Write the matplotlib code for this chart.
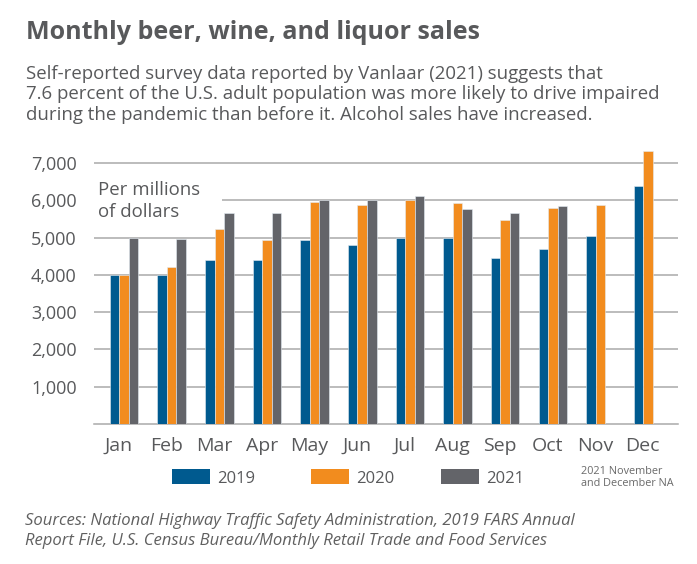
import numpy as np
import matplotlib
matplotlib.use('Agg')
import matplotlib.pyplot as plt
from matplotlib.patches import Patch, Rectangle

plt.rcParams['font.family'] = ['Open Sans', 'DejaVu Sans']

months = ['Jan', 'Feb', 'Mar', 'Apr', 'May', 'Jun', 'Jul', 'Aug', 'Sep', 'Oct', 'Nov', 'Dec']
sales_2019 = [4000, 4000, 4410, 4410, 4930, 4790, 5000, 4990, 4440, 4700, 5030, 6390]
sales_2020 = [4000, 4200, 5220, 4930, 5950, 5860, 6010, 5920, 5480, 5800, 5860, 7320]
sales_2021 = [5000, 4950, 5670, 5670, 6000, 6000, 6110, 5760, 5650, 5850, np.nan, np.nan]
years = ['2019', '2020', '2021']
colors = ['#005a8f', '#f28c1e', '#636469']
yticks = [1000, 2000, 3000, 4000, 5000, 6000, 7000]

txt = '#58595b'

fig = plt.figure(figsize=(6.97, 5.64), dpi=100)
ax = fig.add_axes([0.1349, 0.2482, 0.838, 0.4894])

x = np.arange(len(months))
w = 0.2
for i, (vals, c) in enumerate(zip([sales_2019, sales_2020, sales_2021], colors)):
    ax.bar(x + (i - 1) * w, vals, width=w, color=c, edgecolor='#e4ebf2', linewidth=0.4, zorder=3)

ax.set_xlim(-0.63, 11.63)
ax.set_ylim(0, 7400)
ax.set_yticks(yticks)
ax.set_yticklabels([f'{v:,}' for v in yticks])
# month labels sit a little left of the bar groups
ax.set_xticks(x - 0.11)
ax.set_xticklabels(months)
ax.tick_params(axis='both', length=0, colors=txt)
ax.tick_params(axis='y', pad=12.4, labelsize=13)
ax.tick_params(axis='x', pad=9.5, labelsize=14)
ax.yaxis.grid(True, color='#a9a9a9', linewidth=1.1, zorder=0)
for s in ['top', 'right', 'left']:
    ax.spines[s].set_visible(False)
ax.spines['bottom'].set_color('#a9a9a9')
ax.spines['bottom'].set_linewidth(1.1)

# white block behind the unit note hides part of the 6,000 gridline
ax.add_patch(Rectangle((0, 0.72), 0.219, 0.165, transform=ax.transAxes,
                       facecolor='white', edgecolor='none', zorder=2.5))
ax.text(0.0074, 0.882, 'Per millions\nof dollars', transform=ax.transAxes, fontsize=13.4,
        color=txt, va='top', ha='left', linespacing=1.3, zorder=4)

fig.text(0.037, 0.942, 'Monthly beer, wine, and liquor sales', fontsize=18,
         fontweight='bold', color=txt, va='center')
fig.text(0.037, 0.8326,
         'Self-reported survey data reported by Vanlaar (2021) suggests that\n'
         '7.6 percent of the U.S. adult population was more likely to drive impaired\n'
         'during the pandemic than before it. Alcohol sales have increased.',
         fontsize=13.4, color=txt, va='center', linespacing=1.19)

legend_x = [172, 311, 441]
for yr, c, lx in zip(years, colors, legend_x):
    fig.legend([Patch(facecolor=c, edgecolor='none')], [yr], loc='center left',
               bbox_to_anchor=(lx / 697, 0.1525), frameon=False, fontsize=12,
               labelcolor=txt, handlelength=2.28, handleheight=1.0,
               handletextpad=0.44, borderpad=0, borderaxespad=0)

fig.text(581 / 697, 0.1535, '2021 November\nand December NA', fontsize=7.8, color='#6a6a6a',
         va='center', ha='left', linespacing=1.2)

fig.text(0.036, 0.059,
         'Sources: National Highway Traffic Safety Administration, 2019 FARS Annual\n'
         'Report File, U.S. Census Bureau/Monthly Retail Trade and Food Services',
         fontsize=12, style='italic', color='#606060', va='center', linespacing=1.3)

fig.savefig('out.png', dpi=100)
